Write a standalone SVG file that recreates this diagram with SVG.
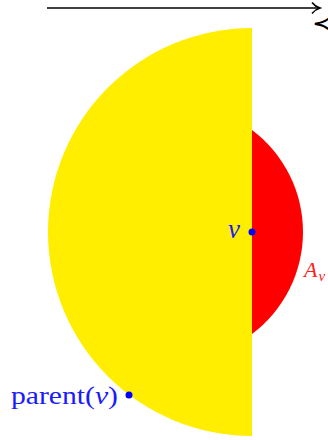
<svg xmlns="http://www.w3.org/2000/svg" width="328" height="440" viewBox="0 0 328 440">
<style>
.lbl{font-family:"Liberation Serif","DejaVu Serif",serif;fill:#1a1aff}
.dot{fill:#0000ff}
</style>
<defs>
<marker id="arr" markerWidth="12" markerHeight="14" refX="10" refY="7" orient="auto" markerUnits="userSpaceOnUse">
<path d="M2,1.5 Q5,5.5 10,7 Q5,8.5 2,12.5" fill="none" stroke="#000" stroke-width="1.6"/>
</marker>
</defs>
<g id="connectors">
<line x1="47" y1="8" x2="320" y2="8" stroke="#000" stroke-width="1.6" marker-end="url(#arr)"/>
</g>
<text x="312" y="32" font-family="DejaVu Serif,serif" font-size="26" fill="#000">≺</text>
<g id="yellow">
<path d="M252,28 A204,204 0 0 0 252,436 Z" fill="#ffee00"/>
</g>
<g id="red">
<path d="M252,130 A127.5,127.5 0 0 1 252,334 Z" fill="#ff0000"/>
<text x="304" y="277" font-family="Liberation Serif,serif" font-style="italic" font-size="22" fill="#ff2020">A<tspan font-size="15" dx="1" dy="4">v</tspan></text>
</g>
<g id="v">
<circle class="dot" cx="252" cy="232" r="3.5"/>
<text class="lbl" x="228" y="238" font-size="27" font-style="italic">v</text>
</g>
<g id="parent">
<circle class="dot" cx="129" cy="395" r="3.5"/>
<text class="lbl" x="11" y="404" font-size="26" textLength="107" lengthAdjust="spacingAndGlyphs">parent(<tspan font-style="italic">v</tspan>)</text>
</g>
</svg>
